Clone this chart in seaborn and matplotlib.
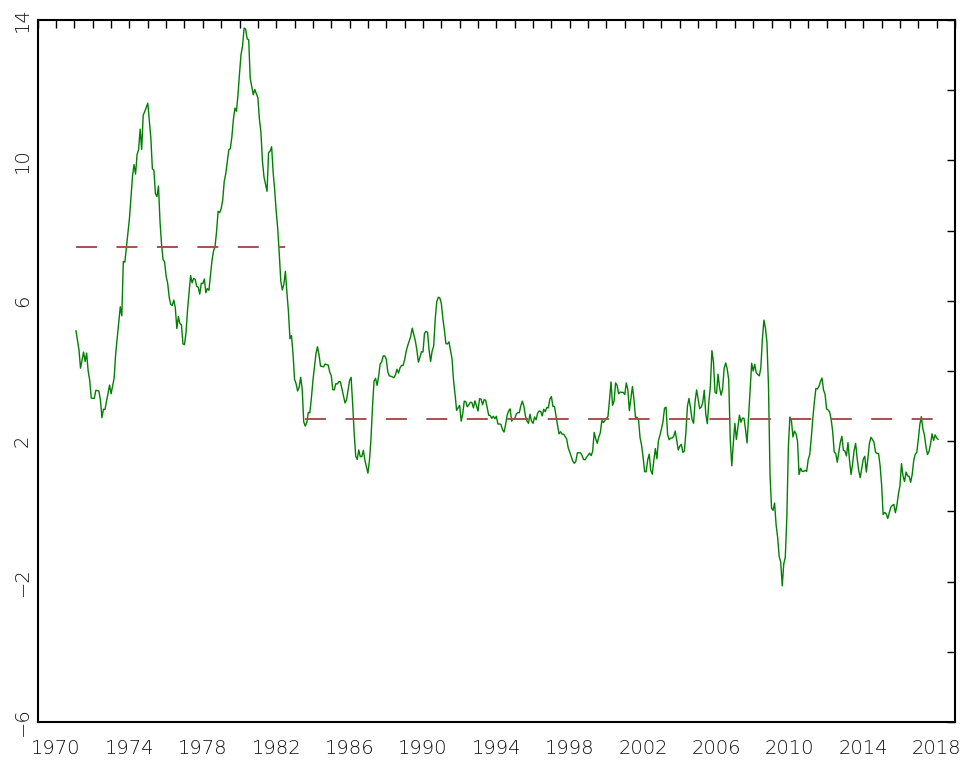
import numpy as np
import pandas as pd
import seaborn as sns
import matplotlib.pyplot as plt
from matplotlib.ticker import FixedLocator, MultipleLocator

# Monthly inflation (12-month log change x100), Jan 1971 - Jan 2018
infl_1970s = [
    5.15, 4.88, 4.60, 4.08, 4.31, 4.54, 4.27, 4.51, 4.00, 3.74, 3.23, 3.22,  # 1971
    3.22, 3.45, 3.44, 3.43, 3.18, 2.67, 2.91, 2.90, 3.14, 3.36, 3.60, 3.35,  # 1972
    3.58, 3.80, 4.49, 4.93, 5.38, 5.83, 5.57, 7.12, 7.10, 7.51, 7.93, 8.35,  # 1973
    8.97, 9.55, 9.88, 9.61, 10.17, 10.31, 10.89, 10.31, 11.29, 11.39, 11.51, 11.63,  # 1974
    11.15, 10.64, 9.76, 9.72, 9.05, 8.97, 9.27, 8.25, 7.61, 7.17, 7.11, 6.70,  # 1975
    6.50, 6.10, 5.89, 5.87, 6.02, 5.80, 5.21, 5.55, 5.35, 5.32, 4.77, 4.75,  # 1976
    5.09, 5.74, 6.24, 6.72, 6.51, 6.64, 6.61, 6.41, 6.39, 6.19, 6.50, 6.49,  # 1977
    6.62, 6.23, 6.35, 6.30, 6.74, 7.15, 7.42, 7.55, 7.98, 8.55, 8.51, 8.63,  # 1978
    8.87, 9.40, 9.62, 9.97, 10.30, 10.34, 10.67, 11.17, 11.49, 11.40, 11.87, 12.48,  # 1979
]
infl_1980s = [
    13.02, 13.26, 13.77, 13.74, 13.46, 13.44, 12.34, 12.10, 11.87, 12.02, 11.90, 11.79,  # 1980
    11.18, 10.80, 9.98, 9.53, 9.33, 9.12, 10.22, 10.26, 10.39, 9.66, 9.16, 8.55,  # 1981
    8.05, 7.34, 6.56, 6.31, 6.47, 6.84, 6.24, 5.69, 4.92, 5.01, 4.49, 3.76,  # 1982
    3.64, 3.43, 3.54, 3.82, 3.49, 2.55, 2.43, 2.53, 2.82, 2.81, 3.22, 3.72,  # 1983
    4.11, 4.49, 4.69, 4.46, 4.14, 4.13, 4.12, 4.20, 4.18, 4.17, 3.97, 3.87,  # 1984
    3.47, 3.46, 3.64, 3.63, 3.70, 3.69, 3.49, 3.29, 3.09, 3.18, 3.45, 3.73,  # 1985
    3.82, 3.07, 2.23, 1.57, 1.48, 1.75, 1.56, 1.56, 1.74, 1.46, 1.28, 1.09,  # 1986
    1.45, 2.08, 2.99, 3.71, 3.79, 3.59, 3.85, 4.20, 4.26, 4.43, 4.43, 4.34,  # 1987
    3.97, 3.86, 3.85, 3.83, 3.81, 3.89, 4.05, 3.94, 4.09, 4.16, 4.16, 4.32,  # 1988
    4.56, 4.72, 4.86, 4.99, 5.22, 5.04, 4.86, 4.60, 4.25, 4.39, 4.55, 4.54,  # 1989
]
infl_1990s = [
    5.07, 5.13, 5.10, 4.60, 4.27, 4.57, 4.71, 5.47, 5.97, 6.10, 6.08, 5.93,  # 1990
    5.50, 5.17, 4.78, 4.77, 4.83, 4.59, 4.35, 3.73, 3.33, 2.88, 2.95, 3.02,  # 1991
    2.57, 2.78, 3.14, 3.13, 2.98, 3.04, 3.11, 3.10, 2.95, 3.15, 3.00, 2.86,  # 1992
    3.21, 3.20, 3.04, 3.18, 3.17, 2.95, 2.74, 2.73, 2.65, 2.71, 2.64, 2.71,  # 1993
    2.49, 2.49, 2.48, 2.33, 2.26, 2.46, 2.73, 2.86, 2.92, 2.57, 2.64, 2.64,  # 1994
    2.77, 2.82, 2.81, 3.01, 3.14, 3.00, 2.72, 2.58, 2.51, 2.77, 2.57, 2.51,  # 1995
    2.69, 2.61, 2.80, 2.86, 2.85, 2.72, 2.91, 2.84, 2.96, 2.95, 3.20, 3.27,  # 1996
    2.99, 2.99, 2.72, 2.46, 2.21, 2.27, 2.20, 2.20, 2.13, 2.06, 1.81, 1.69,  # 1997
    1.56, 1.43, 1.37, 1.43, 1.67, 1.67, 1.67, 1.60, 1.48, 1.47, 1.54, 1.60,  # 1998
    1.66, 1.59, 1.71, 2.25, 2.07, 1.94, 2.12, 2.24, 2.59, 2.53, 2.59, 2.65,  # 1999
]
infl_2000s = [
    2.70, 3.17, 3.69, 3.02, 3.14, 3.66, 3.59, 3.35, 3.40, 3.39, 3.39, 3.33,  # 2000
    3.66, 3.47, 2.87, 3.22, 3.56, 3.20, 2.68, 2.68, 2.61, 2.10, 1.88, 1.54,  # 2001
    1.13, 1.13, 1.47, 1.63, 1.17, 1.06, 1.45, 1.79, 1.50, 2.01, 2.17, 2.35,  # 2002
    2.56, 2.94, 2.97, 2.20, 2.04, 2.09, 2.09, 2.14, 2.29, 2.02, 1.75, 1.86,  # 2003
    1.91, 1.68, 1.72, 2.26, 3.00, 3.22, 2.95, 2.62, 2.51, 3.14, 3.46, 3.20,  # 2004
    2.93, 2.97, 3.10, 3.45, 2.76, 2.50, 3.12, 3.58, 4.58, 4.26, 3.40, 3.36,  # 2005
    3.91, 3.53, 3.31, 3.49, 4.08, 4.23, 4.06, 3.75, 2.04, 1.30, 1.95, 2.51,  # 2006
    2.05, 2.39, 2.74, 2.54, 2.66, 2.65, 2.33, 1.95, 2.72, 3.48, 4.22, 4.00,  # 2007
    4.19, 3.95, 3.90, 3.86, 4.09, 4.90, 5.45, 5.23, 4.82, 3.59, 1.06, 0.09,  # 2008
    0.03, 0.24, -0.39, -0.74, -1.29, -1.44, -2.12, -1.50, -1.30, -0.18, 1.82, 2.69,  # 2009
]
infl_2010s = [
    2.59, 2.12, 2.29, 2.21, 2.00, 1.05, 1.23, 1.14, 1.14, 1.17, 1.14, 1.48,  # 2010
    1.62, 2.09, 2.65, 3.11, 3.50, 3.49, 3.56, 3.70, 3.80, 3.46, 3.34, 2.92,  # 2011
    2.89, 2.83, 2.62, 2.27, 1.69, 1.65, 1.40, 1.68, 1.97, 2.14, 1.74, 1.72,  # 2012
    1.58, 1.96, 1.46, 1.05, 1.35, 1.73, 1.94, 1.51, 1.17, 0.96, 1.23, 1.49,  # 2013
    1.57, 1.12, 1.50, 1.93, 2.11, 2.05, 1.97, 1.69, 1.65, 1.65, 1.31, 0.76,  # 2014
    -0.09, -0.03, -0.07, -0.20, -0.04, 0.12, 0.17, 0.20, -0.04, 0.17, 0.50, 0.73,  # 2015
    1.36, 1.01, 0.85, 1.12, 1.01, 1.00, 0.83, 1.05, 1.45, 1.63, 1.68, 2.05,  # 2016
    2.47, 2.70, 2.35, 2.18, 1.85, 1.62, 1.71, 1.92, 2.21, 2.02, 2.18, 2.09,  # 2017
    2.05,  # 2018
]
FIRST_YEAR = 1971

# period averages drawn as dashed lines
mean_starts = [1971.083, 1983.583]
mean_ends = [1982.5, 2018.083]
mean_levels = [7.53, 2.64]

x_ticks = list(range(1970, 2019, 4))
y_ticks = [-6, -2, 2, 6, 10, 14]

values = infl_1970s + infl_1980s + infl_1990s + infl_2000s + infl_2010s
df = pd.DataFrame({
    'year': FIRST_YEAR + (np.arange(len(values)) + 1) / 12,
    'inflation': values,
})

sns.set_style('white')
plt.rcParams['font.family'] = ['DejaVu Sans']

fig = plt.figure(figsize=(9.72, 7.6), dpi=100)
ax = fig.add_axes([0.0388, 0.05, 0.9437, 0.9237])

sns.lineplot(data=df, x='year', y='inflation', color='#008000', lw=1.0, ax=ax)
for start, end, level in zip(mean_starts, mean_ends, mean_levels):
    ax.plot([start, end], [level, level], color='#a5504f', lw=1.4, dashes=(10.8, 10))

ax.set_xlim(1969, 2019)
ax.set_ylim(-6, 14)
ax.xaxis.set_major_locator(FixedLocator(x_ticks))
ax.xaxis.set_minor_locator(MultipleLocator(1))
ax.yaxis.set_major_locator(FixedLocator(y_ticks))
ax.yaxis.set_minor_locator(MultipleLocator(2))
ax.set_xlabel('')
ax.set_ylabel('')

ax.tick_params(which='both', direction='in', top=True, right=True, length=5.5, width=1.0, color='black')
ax.tick_params(axis='x', which='major', pad=12, labelsize=14, labelcolor='#111111')
ax.tick_params(axis='y', which='major', pad=4, labelsize=14, labelcolor='#111111', labelrotation=90)
for lab in ax.get_xticklabels() + ax.get_yticklabels():
    lab.set_fontweight('light')
for lab in ax.get_yticklabels():
    lab.set_va('center')

for spine in ax.spines.values():
    spine.set_linewidth(1.5)
    spine.set_color('black')

fig.savefig('out.png', dpi=100)
